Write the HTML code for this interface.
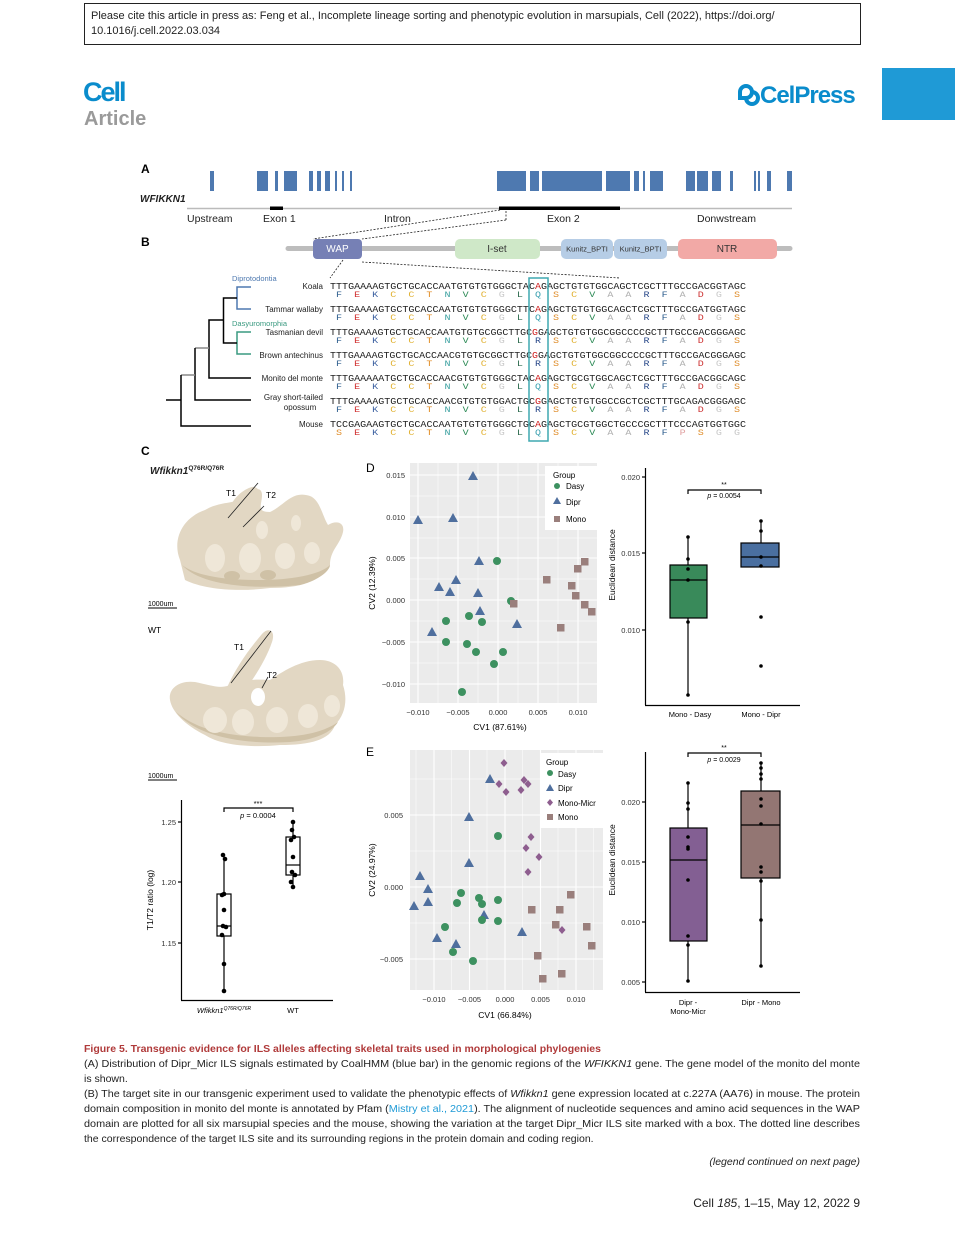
<!DOCTYPE html>
<html><head><meta charset="utf-8"><style>
html,body{margin:0;padding:0;background:#fff;}
svg{display:block;font-family:"Liberation Sans",sans-serif;}
.seq{font-family:"Liberation Mono",monospace;font-size:9.5px;fill:#222;}
.aa{font-family:"Liberation Mono",monospace;font-size:8.5px;white-space:pre;}
.F{fill:#2f5f8f}.E{fill:#d03030}.K{fill:#3a5fa0}.C{fill:#e0b030}.T{fill:#e08a20}.N{fill:#3aa0a0}.V{fill:#2e8b57}.G{fill:#c8c8c8}.L{fill:#2e6b4f}.Q{fill:#3aa0b0}.R{fill:#2a4a8a}.S{fill:#e09030}.A{fill:#b0b0b0}.D{fill:#cc3030}.P{fill:#e0a0a0}
.sp{font-size:8px;fill:#222;text-anchor:end;}
.tk{font-size:7.5px;fill:#333;}
.cap{font-size:10.5px;fill:#222;}
.bone{fill:#e2d7c3;}
.sh{fill:#cfc1a6;}
.hl{fill:#efe7d8;}
</style></head><body>
<svg width="955" height="1240" viewBox="0 0 955 1240" xmlns="http://www.w3.org/2000/svg">
<!-- header -->
<rect x="84.5" y="3.5" width="776" height="41" fill="none" stroke="#222" stroke-width="1"/>
<text x="91" y="19" font-size="11" fill="#222">Please cite this article in press as: Feng et al., Incomplete lineage sorting and phenotypic evolution in marsupials, Cell (2022), https://doi.org/</text>
<text x="91" y="34" font-size="11" fill="#222">10.1016/j.cell.2022.03.034</text>
<text x="83" y="101" font-size="27" font-weight="bold" fill="#0a8ccc" letter-spacing="-2">Cell</text>
<text x="84" y="125" font-size="20" font-weight="bold" fill="#9a9a9a">Article</text>
<text x="760" y="103" font-size="24" font-weight="bold" fill="#0a8ccc" letter-spacing="-1">CelPress</text>
<path d="M740 92 a6 6 0 1 1 6 6 h-6 z M746 98 a6 6 0 1 0 6 -6" fill="none" stroke="#0a8ccc" stroke-width="4"/>
<rect x="882" y="68" width="73" height="52" fill="#1f9ad6"/>

<!-- Panel A -->
<text x="141" y="173" font-size="12" font-weight="bold">A</text>
<text x="140" y="202" font-size="10" font-style="italic" font-weight="bold" fill="#222">WFIKKN1</text>
<g fill="#4e79b0">
<rect x="210" y="171" width="4" height="20"/><rect x="257" y="171" width="11" height="20"/><rect x="275" y="171" width="3" height="20"/><rect x="284" y="171" width="13" height="20"/><rect x="309" y="171" width="4" height="20"/><rect x="317" y="171" width="4" height="20"/><rect x="325" y="171" width="5" height="20"/><rect x="335" y="171" width="2" height="20"/><rect x="342" y="171" width="2" height="20"/><rect x="350" y="171" width="2" height="20"/>
<rect x="497" y="171" width="29" height="20"/><rect x="530" y="171" width="9" height="20"/><rect x="542" y="171" width="60" height="20"/><rect x="606" y="171" width="24" height="20"/><rect x="634" y="171" width="5" height="20"/><rect x="643" y="171" width="2" height="20"/><rect x="650" y="171" width="13" height="20"/><rect x="686" y="171" width="9" height="20"/><rect x="697" y="171" width="11" height="20"/><rect x="712" y="171" width="9" height="20"/><rect x="730" y="171" width="3" height="20"/><rect x="754" y="171" width="2" height="20"/><rect x="758" y="171" width="2" height="20"/><rect x="767" y="171" width="4" height="20"/><rect x="787" y="171" width="5" height="20"/>
</g>
<line x1="187" y1="208.5" x2="792" y2="208.5" stroke="#bbb" stroke-width="1.5"/>
<rect x="270" y="206.5" width="13" height="3.5" fill="#000"/>
<rect x="499" y="206.5" width="121" height="3.5" fill="#000"/>
<g font-size="10.5" fill="#222">
<text x="187" y="222">Upstream</text><text x="263" y="222">Exon 1</text><text x="384" y="222">Intron</text><text x="547" y="222">Exon 2</text><text x="697" y="222">Donwstream</text>
</g>

<!-- Panel B -->
<text x="141" y="246" font-size="12" font-weight="bold">B</text>
<line x1="288" y1="248.5" x2="790" y2="248.5" stroke="#bdbdbd" stroke-width="5" stroke-linecap="round"/>
<rect x="313" y="239" width="49" height="20" rx="4" fill="#7680b5"/>
<text x="337.5" y="252" font-size="10" fill="#fff" text-anchor="middle">WAP</text>
<rect x="455" y="239" width="85" height="20" rx="5" fill="#cfe8c8"/>
<text x="497" y="252" font-size="10" fill="#333" text-anchor="middle">I-set</text>
<rect x="561" y="239" width="52" height="20" rx="5" fill="#b6cde6"/>
<rect x="614" y="239" width="53" height="20" rx="5" fill="#b6cde6"/>
<text x="587" y="251.5" font-size="7.5" fill="#333" text-anchor="middle">Kunitz_BPTI</text>
<text x="640.5" y="251.5" font-size="7.5" fill="#333" text-anchor="middle">Kunitz_BPTI</text>
<rect x="678" y="239" width="99" height="20" rx="5" fill="#f2a9a6"/>
<text x="727" y="252" font-size="10" fill="#333" text-anchor="middle">NTR</text>
<g stroke="#222" stroke-width="0.8" stroke-dasharray="2,1.5" fill="none">
<line x1="500" y1="210" x2="313" y2="239"/><line x1="506" y1="211" x2="506" y2="220"/><line x1="506" y1="220" x2="362" y2="239"/>
<line x1="343" y1="260" x2="330" y2="278"/><line x1="362" y1="262" x2="620" y2="278"/>
</g>

<!-- tree -->
<text x="232" y="281" font-size="7.5" fill="#4e79b0">Diprotodontia</text>
<text x="232" y="326" font-size="7.5" fill="#3a9a80">Dasyuromorphia</text>
<g fill="none" stroke-width="1.5">
<path d="M251 287 H237 V309 H251" stroke="#4e79b0"/>
<path d="M251 332 H237 V354 H251" stroke="#3a9a80"/>
<path d="M237 298 H223.5 V343 H237" stroke="#000"/>
<path d="M223.5 320 H209 V378 H251" stroke="#000"/>
<path d="M209 348 H195" stroke="#888"/>
<path d="M195 348 V400 H251" stroke="#000"/>
<path d="M195 375 H181" stroke="#888"/>
<path d="M181 375 V426 H251" stroke="#000"/>
<path d="M166 400 H181" stroke="#000"/>
</g>

<!-- species labels -->
<text class="sp" x="323" y="289">Koala</text>
<text class="sp" x="323" y="312">Tammar wallaby</text>
<text class="sp" x="323" y="335">Tasmanian devil</text>
<text class="sp" x="323" y="358">Brown antechinus</text>
<text class="sp" x="323" y="381">Monito del monte</text>
<text class="sp" x="323" y="400">Gray short-tailed</text>
<text class="sp" x="300" y="410" style="text-anchor:middle">opossum</text>
<text class="sp" x="323" y="427">Mouse</text>

<!-- sequences -->
<text class="seq" x="330" y="289" textLength="416" lengthAdjust="spacingAndGlyphs">TTTGAAAAGTGCTGCACCAATGTGTGTGGGCTAC<tspan fill="#d02020">A</tspan>GAGCTGTGTGGCAGCTCGCTTTGCCGACGGTAGC</text>
<text class="seq" x="330" y="312" textLength="416" lengthAdjust="spacingAndGlyphs">TTTGAAAAGTGCTGCACCAATGTGTGTGGGCTTC<tspan fill="#d02020">A</tspan>GAGCTGTGTGGCAGCTCGCTTTGCCGATGGTAGC</text>
<text class="seq" x="330" y="335" textLength="416" lengthAdjust="spacingAndGlyphs">TTTGAAAAGTGCTGCACCAATGTGTGCGGCTTGC<tspan fill="#d02020">G</tspan>GAGCTGTGTGGCGGCCCCGCTTTGCCGACGGGAGC</text>
<text class="seq" x="330" y="358" textLength="416" lengthAdjust="spacingAndGlyphs">TTTGAAAAGTGCTGCACCAACGTGTGCGGCTTGC<tspan fill="#d02020">G</tspan>GAGCTGTGTGGCGGCCCCGCTTTGCCGACGGGAGC</text>
<text class="seq" x="330" y="381" textLength="416" lengthAdjust="spacingAndGlyphs">TTTGAAAAATGCTGCACCAACGTGTGTGGGCTAC<tspan fill="#d02020">A</tspan>GAGCTGCGTGGCAGCTCGCTTTGCCGACGGCAGC</text>
<text class="seq" x="330" y="404" textLength="416" lengthAdjust="spacingAndGlyphs">TTTGAAAAGTGCTGCACCAACGTGTGTGGACTGC<tspan fill="#d02020">G</tspan>GAGCTGTGTGGCCGCTCGCTTTGCAGACGGGAGC</text>
<text class="seq" x="330" y="427" textLength="416" lengthAdjust="spacingAndGlyphs">TCCGAGAAGTGCTGCACCAATGTGTGTGGGCTGC<tspan fill="#d02020">A</tspan>GAGCTGCGTGGCTGCCCGCTTTCCCAGTGGTGGC</text>

<text class="aa" x="336" y="297" textLength="404" lengthAdjust="spacingAndGlyphs"><tspan class="F">F</tspan>  <tspan class="E">E</tspan>  <tspan class="K">K</tspan>  <tspan class="C">C</tspan>  <tspan class="C">C</tspan>  <tspan class="T">T</tspan>  <tspan class="N">N</tspan>  <tspan class="V">V</tspan>  <tspan class="C">C</tspan>  <tspan class="G">G</tspan>  <tspan class="L">L</tspan>  <tspan class="Q">Q</tspan>  <tspan class="S">S</tspan>  <tspan class="C">C</tspan>  <tspan class="V">V</tspan>  <tspan class="A">A</tspan>  <tspan class="A">A</tspan>  <tspan class="R">R</tspan>  <tspan class="F">F</tspan>  <tspan class="A">A</tspan>  <tspan class="D">D</tspan>  <tspan class="G">G</tspan>  <tspan class="S">S</tspan></text>
<text class="aa" x="336" y="320" textLength="404" lengthAdjust="spacingAndGlyphs"><tspan class="F">F</tspan>  <tspan class="E">E</tspan>  <tspan class="K">K</tspan>  <tspan class="C">C</tspan>  <tspan class="C">C</tspan>  <tspan class="T">T</tspan>  <tspan class="N">N</tspan>  <tspan class="V">V</tspan>  <tspan class="C">C</tspan>  <tspan class="G">G</tspan>  <tspan class="L">L</tspan>  <tspan class="Q">Q</tspan>  <tspan class="S">S</tspan>  <tspan class="C">C</tspan>  <tspan class="V">V</tspan>  <tspan class="A">A</tspan>  <tspan class="A">A</tspan>  <tspan class="R">R</tspan>  <tspan class="F">F</tspan>  <tspan class="A">A</tspan>  <tspan class="D">D</tspan>  <tspan class="G">G</tspan>  <tspan class="S">S</tspan></text>
<text class="aa" x="336" y="343" textLength="404" lengthAdjust="spacingAndGlyphs"><tspan class="F">F</tspan>  <tspan class="E">E</tspan>  <tspan class="K">K</tspan>  <tspan class="C">C</tspan>  <tspan class="C">C</tspan>  <tspan class="T">T</tspan>  <tspan class="N">N</tspan>  <tspan class="V">V</tspan>  <tspan class="C">C</tspan>  <tspan class="G">G</tspan>  <tspan class="L">L</tspan>  <tspan class="R">R</tspan>  <tspan class="S">S</tspan>  <tspan class="C">C</tspan>  <tspan class="V">V</tspan>  <tspan class="A">A</tspan>  <tspan class="A">A</tspan>  <tspan class="R">R</tspan>  <tspan class="F">F</tspan>  <tspan class="A">A</tspan>  <tspan class="D">D</tspan>  <tspan class="G">G</tspan>  <tspan class="S">S</tspan></text>
<text class="aa" x="336" y="366" textLength="404" lengthAdjust="spacingAndGlyphs"><tspan class="F">F</tspan>  <tspan class="E">E</tspan>  <tspan class="K">K</tspan>  <tspan class="C">C</tspan>  <tspan class="C">C</tspan>  <tspan class="T">T</tspan>  <tspan class="N">N</tspan>  <tspan class="V">V</tspan>  <tspan class="C">C</tspan>  <tspan class="G">G</tspan>  <tspan class="L">L</tspan>  <tspan class="R">R</tspan>  <tspan class="S">S</tspan>  <tspan class="C">C</tspan>  <tspan class="V">V</tspan>  <tspan class="A">A</tspan>  <tspan class="A">A</tspan>  <tspan class="R">R</tspan>  <tspan class="F">F</tspan>  <tspan class="A">A</tspan>  <tspan class="D">D</tspan>  <tspan class="G">G</tspan>  <tspan class="S">S</tspan></text>
<text class="aa" x="336" y="389" textLength="404" lengthAdjust="spacingAndGlyphs"><tspan class="F">F</tspan>  <tspan class="E">E</tspan>  <tspan class="K">K</tspan>  <tspan class="C">C</tspan>  <tspan class="C">C</tspan>  <tspan class="T">T</tspan>  <tspan class="N">N</tspan>  <tspan class="V">V</tspan>  <tspan class="C">C</tspan>  <tspan class="G">G</tspan>  <tspan class="L">L</tspan>  <tspan class="Q">Q</tspan>  <tspan class="S">S</tspan>  <tspan class="C">C</tspan>  <tspan class="V">V</tspan>  <tspan class="A">A</tspan>  <tspan class="A">A</tspan>  <tspan class="R">R</tspan>  <tspan class="F">F</tspan>  <tspan class="A">A</tspan>  <tspan class="D">D</tspan>  <tspan class="G">G</tspan>  <tspan class="S">S</tspan></text>
<text class="aa" x="336" y="412" textLength="404" lengthAdjust="spacingAndGlyphs"><tspan class="F">F</tspan>  <tspan class="E">E</tspan>  <tspan class="K">K</tspan>  <tspan class="C">C</tspan>  <tspan class="C">C</tspan>  <tspan class="T">T</tspan>  <tspan class="N">N</tspan>  <tspan class="V">V</tspan>  <tspan class="C">C</tspan>  <tspan class="G">G</tspan>  <tspan class="L">L</tspan>  <tspan class="R">R</tspan>  <tspan class="S">S</tspan>  <tspan class="C">C</tspan>  <tspan class="V">V</tspan>  <tspan class="A">A</tspan>  <tspan class="A">A</tspan>  <tspan class="R">R</tspan>  <tspan class="F">F</tspan>  <tspan class="A">A</tspan>  <tspan class="D">D</tspan>  <tspan class="G">G</tspan>  <tspan class="S">S</tspan></text>
<text class="aa" x="336" y="435" textLength="404" lengthAdjust="spacingAndGlyphs"><tspan class="S">S</tspan>  <tspan class="E">E</tspan>  <tspan class="K">K</tspan>  <tspan class="C">C</tspan>  <tspan class="C">C</tspan>  <tspan class="T">T</tspan>  <tspan class="N">N</tspan>  <tspan class="V">V</tspan>  <tspan class="C">C</tspan>  <tspan class="G">G</tspan>  <tspan class="L">L</tspan>  <tspan class="Q">Q</tspan>  <tspan class="S">S</tspan>  <tspan class="C">C</tspan>  <tspan class="V">V</tspan>  <tspan class="A">A</tspan>  <tspan class="A">A</tspan>  <tspan class="R">R</tspan>  <tspan class="F">F</tspan>  <tspan class="P">P</tspan>  <tspan class="S">S</tspan>  <tspan class="G">G</tspan>  <tspan class="G">G</tspan></text>
<rect x="529" y="278" width="19" height="163" fill="none" stroke="#3fa8b0" stroke-width="1.5"/>

<!-- Panel C -->
<text x="141" y="455" font-size="12" font-weight="bold">C</text>
<text x="150" y="474" font-size="10" font-style="italic" font-weight="bold" fill="#222">Wfikkn1<tspan font-size="6.5" dy="-4" font-style="normal">Q76R/Q76R</tspan></text>
<!-- bone 1 -->
<g>
<path class="bone" d="M180 560 C172 540 182 518 205 510 C222 500 238 505 247 495 C252 488 262 486 262 495 C262 505 256 512 270 512 C285 505 292 490 310 496 C320 500 322 515 328 525 C336 520 345 522 343 532 C340 545 330 550 330 565 C320 582 300 588 270 588 C240 592 205 590 185 580 Z"/>
<path class="bone" d="M228 520 C226 505 240 490 252 487 C260 486 262 495 256 510 C250 525 232 530 228 520 Z"/>
<path class="sh" d="M182 565 C200 585 250 590 300 585 C320 580 330 570 330 565 C320 575 290 580 260 580 C220 580 195 575 182 565 Z"/>
<ellipse class="hl" cx="215" cy="558" rx="10" ry="14"/>
<ellipse class="hl" cx="250" cy="558" rx="11" ry="15"/>
<ellipse class="hl" cx="285" cy="556" rx="10" ry="13"/>
<ellipse class="hl" cx="312" cy="553" rx="8" ry="11"/>
<ellipse class="hl" cx="262" cy="530" rx="6" ry="9"/>
<ellipse class="hl" cx="296" cy="523" rx="5" ry="8"/>
<ellipse class="sh" cx="232" cy="576" rx="8" ry="5"/><ellipse class="sh" cx="268" cy="575" rx="8" ry="5"/>
</g>
<g stroke="#222" stroke-width="0.8"><line x1="228" y1="518" x2="258" y2="483"/><line x1="243" y1="527" x2="264" y2="506"/></g>
<text x="226" y="496" font-size="8.5">T1</text><text x="266" y="498" font-size="8.5">T2</text>
<line x1="148" y1="608" x2="177" y2="608" stroke="#000" stroke-width="1"/>
<text x="148" y="606" font-size="7">1000um</text>
<text x="148" y="633" font-size="8.5">WT</text>
<!-- bone 2 -->
<g>
<path class="bone" d="M170 700 C168 688 180 680 195 682 C210 685 222 690 232 684 C250 678 262 680 270 680 C282 672 300 660 320 660 C335 660 345 670 343 685 C348 700 345 715 335 725 C330 740 310 745 280 745 C250 748 220 745 205 735 C185 725 172 712 170 700 Z"/>
<path class="bone" d="M226 690 C235 668 250 648 262 634 C268 627 276 630 272 642 C266 660 252 682 240 696 Z"/>
<path class="sh" d="M176 712 C195 735 240 745 290 742 C315 740 332 732 338 722 C320 735 290 738 260 737 C220 735 195 728 176 712 Z"/>
<ellipse class="hl" cx="215" cy="720" rx="12" ry="13"/>
<ellipse class="hl" cx="243" cy="722" rx="11" ry="13"/>
<ellipse class="hl" cx="277" cy="720" rx="11" ry="13"/>
<ellipse class="hl" cx="308" cy="716" rx="10" ry="12"/>
<ellipse class="hl" cx="332" cy="706" rx="8" ry="11"/>
<ellipse cx="258" cy="697" rx="7" ry="9" fill="#fff"/>
</g>
<g stroke="#222" stroke-width="0.8"><line x1="231" y1="683" x2="271" y2="631"/><line x1="262" y1="688" x2="268" y2="677"/></g>
<text x="234" y="650" font-size="8.5">T1</text><text x="267" y="678" font-size="8.5">T2</text>
<line x1="148" y1="780" x2="177" y2="780" stroke="#000" stroke-width="1"/>
<text x="148" y="778" font-size="7">1000um</text>

<!-- C boxplot -->
<g stroke="#000" stroke-width="1.2" fill="none">
<line x1="181.5" y1="800" x2="181.5" y2="1000"/><line x1="181" y1="1000.5" x2="333" y2="1000.5"/>
<line x1="178" y1="822" x2="181" y2="822"/><line x1="178" y1="882" x2="181" y2="882"/><line x1="178" y1="943" x2="181" y2="943"/>
<line x1="224" y1="991" x2="224" y2="936"/><line x1="224" y1="894" x2="224" y2="855"/>
<rect x="217" y="894" width="14" height="42" fill="#fff"/><line x1="217" y1="926" x2="231" y2="926"/>
<line x1="293" y1="887" x2="293" y2="875"/><line x1="293" y1="837" x2="293" y2="821"/>
<rect x="286" y="837" width="14" height="38" fill="#fff"/><line x1="286" y1="865" x2="300" y2="865"/>
<path d="M224 812 V808 H293 V812"/>
</g>
<g fill="#000">
<circle cx="223" cy="855" r="2.3"/><circle cx="225" cy="859" r="2.3"/><circle cx="224" cy="894" r="2.3"/><circle cx="222" cy="895" r="2.3"/><circle cx="224" cy="910" r="2.3"/><circle cx="223" cy="926" r="2.3"/><circle cx="226" cy="927" r="2.3"/><circle cx="222" cy="935" r="2.3"/><circle cx="224" cy="964" r="2.3"/><circle cx="224" cy="991" r="2.3"/>
<circle cx="293" cy="822" r="2.3"/><circle cx="292" cy="830" r="2.3"/><circle cx="294" cy="837" r="2.3"/><circle cx="291" cy="840" r="2.3"/><circle cx="293" cy="857" r="2.3"/><circle cx="292" cy="872" r="2.3"/><circle cx="295" cy="875" r="2.3"/><circle cx="291" cy="882" r="2.3"/><circle cx="293" cy="887" r="2.3"/>
</g>
<g class="tk" text-anchor="end"><text x="176" y="825">1.25</text><text x="176" y="885">1.20</text><text x="176" y="946">1.15</text></g>
<text x="258" y="806" font-size="7.5" text-anchor="middle">***</text>
<text x="258" y="818" font-size="7.5" text-anchor="middle" font-style="italic">p <tspan font-style="normal">= 0.0004</tspan></text>
<text transform="translate(153,900) rotate(-90)" font-size="8.5" text-anchor="middle">T1/T2 ratio (log)</text>
<text x="224" y="1013" font-size="7.5" text-anchor="middle" font-style="italic">Wfikkn1<tspan font-size="5" dy="-3">Q76R/Q76R</tspan></text>
<text x="293" y="1013" font-size="7.5" text-anchor="middle">WT</text>

<!-- Panel D scatter -->
<text x="366" y="472" font-size="12">D</text>
<rect x="410" y="463" width="187" height="240" fill="#ebebeb"/>
<g stroke="#fff" stroke-width="0.5">
<line x1="438" y1="463" x2="438" y2="703"/><line x1="478" y1="463" x2="478" y2="703"/><line x1="518" y1="463" x2="518" y2="703"/><line x1="558" y1="463" x2="558" y2="703"/>
<line x1="410" y1="496" x2="597" y2="496"/><line x1="410" y1="538" x2="597" y2="538"/><line x1="410" y1="579" x2="597" y2="579"/><line x1="410" y1="621" x2="597" y2="621"/><line x1="410" y1="663" x2="597" y2="663"/>
</g>
<g stroke="#fff" stroke-width="1.1">
<line x1="418" y1="463" x2="418" y2="703"/><line x1="458" y1="463" x2="458" y2="703"/><line x1="498" y1="463" x2="498" y2="703"/><line x1="538" y1="463" x2="538" y2="703"/><line x1="578" y1="463" x2="578" y2="703"/>
<line x1="410" y1="475" x2="597" y2="475"/><line x1="410" y1="517" x2="597" y2="517"/><line x1="410" y1="558" x2="597" y2="558"/><line x1="410" y1="600" x2="597" y2="600"/><line x1="410" y1="642" x2="597" y2="642"/><line x1="410" y1="684" x2="597" y2="684"/>
</g>
<rect x="545" y="466" width="55" height="64" fill="#fff"/>
<g class="tk" text-anchor="end"><text x="405" y="478">0.015</text><text x="405" y="520">0.010</text><text x="405" y="561">0.005</text><text x="405" y="603">0.000</text><text x="405" y="645">−0.005</text><text x="405" y="687">−0.010</text></g>
<g class="tk" text-anchor="middle"><text x="418" y="715">−0.010</text><text x="458" y="715">−0.005</text><text x="498" y="715">0.000</text><text x="538" y="715">0.005</text><text x="578" y="715">0.010</text></g>
<text x="500" y="730" font-size="8.5" text-anchor="middle">CV1 (87.61%)</text>
<text transform="translate(375,583) rotate(-90)" font-size="8.5" text-anchor="middle">CV2 (12.39%)</text>
<g fill="#4f6f9e">
<path d="M473 471 l5 9 h-10 z"/><path d="M418 515 l5 9 h-10 z"/><path d="M453 513 l5 9 h-10 z"/><path d="M479 556 l5 9 h-10 z"/><path d="M456 575 l5 9 h-10 z"/><path d="M439 582 l5 9 h-10 z"/><path d="M450 587 l5 9 h-10 z"/><path d="M478 588 l5 9 h-10 z"/><path d="M480 606 l5 9 h-10 z"/><path d="M517 619 l5 9 h-10 z"/><path d="M432 627 l5 9 h-10 z"/>
</g>
<g fill="#3d9160">
<circle cx="497" cy="561" r="4"/><circle cx="511" cy="601" r="4"/><circle cx="446" cy="621" r="4"/><circle cx="469" cy="616" r="4"/><circle cx="482" cy="622" r="4"/><circle cx="446" cy="642" r="4"/><circle cx="467" cy="644" r="4"/><circle cx="476" cy="652" r="4"/><circle cx="503" cy="652" r="4"/><circle cx="494" cy="664" r="4"/><circle cx="462" cy="692" r="4"/>
</g>
<g fill="#9a7f7c">
<rect x="510" y="600" width="7.5" height="7.5"/><rect x="543" y="576" width="7.5" height="7.5"/><rect x="581" y="558" width="7.5" height="7.5"/><rect x="574" y="565" width="7.5" height="7.5"/><rect x="568" y="582" width="7.5" height="7.5"/><rect x="572" y="592" width="7.5" height="7.5"/><rect x="581" y="601" width="7.5" height="7.5"/><rect x="588" y="608" width="7.5" height="7.5"/><rect x="557" y="624" width="7.5" height="7.5"/>
</g>
<text x="553" y="478" font-size="8">Group</text>
<circle cx="557" cy="486" r="3" fill="#3d9160"/><text x="566" y="489" font-size="8">Dasy</text>
<path d="M557 497 l4 7 h-8 z" fill="#4f6f9e"/><text x="566" y="505" font-size="8">Dipr</text>
<rect x="554" y="516" width="6" height="6" fill="#9a7f7c"/><text x="566" y="522" font-size="8">Mono</text>

<!-- D boxplot -->
<g stroke="#000" stroke-width="1.2" fill="none">
<line x1="645.5" y1="468" x2="645.5" y2="705"/><line x1="645" y1="705.5" x2="800" y2="705.5"/>
<line x1="642" y1="477" x2="645" y2="477"/><line x1="642" y1="553" x2="645" y2="553"/><line x1="642" y1="630" x2="645" y2="630"/>
<line x1="688" y1="537" x2="688" y2="695"/>
<rect x="670" y="565" width="37" height="53" fill="#398a5a"/><line x1="670" y1="580" x2="707" y2="580"/>
<line x1="761" y1="521" x2="761" y2="567"/>
<rect x="741" y="543" width="38" height="24" fill="#4a6fa0"/><line x1="741" y1="557" x2="779" y2="557"/>
<path d="M688 494 V490 H761 V494"/>
</g>
<g fill="#000">
<circle cx="688" cy="537" r="1.8"/><circle cx="688" cy="559" r="1.8"/><circle cx="688" cy="569" r="1.8"/><circle cx="688" cy="580" r="1.8"/><circle cx="688" cy="622" r="1.8"/><circle cx="688" cy="695" r="1.8"/>
<circle cx="761" cy="521" r="1.8"/><circle cx="761" cy="531" r="1.8"/><circle cx="761" cy="557" r="1.8"/><circle cx="761" cy="566" r="1.8"/><circle cx="761" cy="617" r="1.8"/><circle cx="761" cy="666" r="1.8"/>
</g>
<g class="tk" text-anchor="end"><text x="640" y="480">0.020</text><text x="640" y="556">0.015</text><text x="640" y="633">0.010</text></g>
<text x="724" y="487" font-size="7" text-anchor="middle">**</text>
<text x="724" y="498" font-size="7" text-anchor="middle" font-style="italic">p <tspan font-style="normal">= 0.0054</tspan></text>
<text transform="translate(615,565) rotate(-90)" font-size="8.5" text-anchor="middle">Euclidean distance</text>
<text x="690" y="717" font-size="7.5" text-anchor="middle">Mono - Dasy</text>
<text x="761" y="717" font-size="7.5" text-anchor="middle">Mono - Dipr</text>

<!-- Panel E scatter -->
<text x="366" y="756" font-size="12">E</text>
<rect x="410" y="750" width="193" height="240" fill="#ebebeb"/>
<g stroke="#fff" stroke-width="0.5">
<line x1="451.5" y1="750" x2="451.5" y2="990"/><line x1="487" y1="750" x2="487" y2="990"/><line x1="522.5" y1="750" x2="522.5" y2="990"/><line x1="558" y1="750" x2="558" y2="990"/><line x1="593.5" y1="750" x2="593.5" y2="990"/><line x1="416" y1="750" x2="416" y2="990"/>
<line x1="410" y1="779" x2="603" y2="779"/><line x1="410" y1="851" x2="603" y2="851"/><line x1="410" y1="923" x2="603" y2="923"/>
</g>
<g stroke="#fff" stroke-width="1.1">
<line x1="434" y1="750" x2="434" y2="990"/><line x1="469.5" y1="750" x2="469.5" y2="990"/><line x1="505" y1="750" x2="505" y2="990"/><line x1="540.5" y1="750" x2="540.5" y2="990"/><line x1="576" y1="750" x2="576" y2="990"/>
<line x1="410" y1="815" x2="603" y2="815"/><line x1="410" y1="887" x2="603" y2="887"/><line x1="410" y1="959" x2="603" y2="959"/>
</g>
<rect x="540" y="753" width="64" height="75" fill="#fff"/>
<g class="tk" text-anchor="end"><text x="403" y="818">0.005</text><text x="403" y="890">0.000</text><text x="403" y="962">−0.005</text></g>
<g class="tk" text-anchor="middle"><text x="434" y="1002">−0.010</text><text x="469.5" y="1002">−0.005</text><text x="505" y="1002">0.000</text><text x="540.5" y="1002">0.005</text><text x="576" y="1002">0.010</text></g>
<text x="505" y="1018" font-size="8.5" text-anchor="middle">CV1 (66.84%)</text>
<text transform="translate(375,870) rotate(-90)" font-size="8.5" text-anchor="middle">CV2 (24.97%)</text>
<g fill="#4f6f9e">
<path d="M490 774 l5 9 h-10 z"/><path d="M469 812 l5 9 h-10 z"/><path d="M469 858 l5 9 h-10 z"/><path d="M420 871 l5 9 h-10 z"/><path d="M428 884 l5 9 h-10 z"/><path d="M428 897 l5 9 h-10 z"/><path d="M414 901 l5 9 h-10 z"/><path d="M484 910 l5 9 h-10 z"/><path d="M437 933 l5 9 h-10 z"/><path d="M456 939 l5 9 h-10 z"/><path d="M522 927 l5 9 h-10 z"/>
</g>
<g fill="#3d9160">
<circle cx="498" cy="836" r="4"/><circle cx="461" cy="893" r="4"/><circle cx="457" cy="903" r="4"/><circle cx="479" cy="898" r="4"/><circle cx="482" cy="904" r="4"/><circle cx="498" cy="900" r="4"/><circle cx="482" cy="920" r="4"/><circle cx="498" cy="921" r="4"/><circle cx="445" cy="927" r="4"/><circle cx="453" cy="952" r="4"/><circle cx="473" cy="961" r="4"/>
</g>
<g fill="#8e5e8f">
<path d="M504 759 l3.5 4 l-3.5 4 l-3.5 -4 z"/><path d="M499 780 l3.5 4 l-3.5 4 l-3.5 -4 z"/><path d="M506 788 l3.5 4 l-3.5 4 l-3.5 -4 z"/><path d="M524 776 l3.5 4 l-3.5 4 l-3.5 -4 z"/><path d="M528 780 l3.5 4 l-3.5 4 l-3.5 -4 z"/><path d="M521 786 l3.5 4 l-3.5 4 l-3.5 -4 z"/><path d="M531 833 l3.5 4 l-3.5 4 l-3.5 -4 z"/><path d="M526 844 l3.5 4 l-3.5 4 l-3.5 -4 z"/><path d="M539 853 l3.5 4 l-3.5 4 l-3.5 -4 z"/><path d="M528 868 l3.5 4 l-3.5 4 l-3.5 -4 z"/><path d="M562 926 l3.5 4 l-3.5 4 l-3.5 -4 z"/>
</g>
<g fill="#9a7f7c">
<rect x="567" y="891" width="7.5" height="7.5"/><rect x="528" y="906" width="7.5" height="7.5"/><rect x="556" y="906" width="7.5" height="7.5"/><rect x="552" y="921" width="7.5" height="7.5"/><rect x="583" y="923" width="7.5" height="7.5"/><rect x="588" y="942" width="7.5" height="7.5"/><rect x="534" y="952" width="7.5" height="7.5"/><rect x="539" y="975" width="7.5" height="7.5"/><rect x="558" y="970" width="7.5" height="7.5"/>
</g>
<text x="546" y="765" font-size="8">Group</text>
<circle cx="550" cy="773" r="3" fill="#3d9160"/><text x="558" y="777" font-size="8">Dasy</text>
<path d="M550 784 l4 7 h-8 z" fill="#4f6f9e"/><text x="558" y="791" font-size="8">Dipr</text>
<path d="M550 799 l3 3.5 l-3 3.5 l-3 -3.5 z" fill="#8e5e8f"/><text x="558" y="806" font-size="8">Mono-Micr</text>
<rect x="547" y="814" width="6" height="6" fill="#9a7f7c"/><text x="558" y="820" font-size="8">Mono</text>

<!-- E boxplot -->
<g stroke="#000" stroke-width="1.2" fill="none">
<line x1="645.5" y1="752" x2="645.5" y2="992"/><line x1="645" y1="992.5" x2="800" y2="992.5"/>
<line x1="642" y1="802" x2="645" y2="802"/><line x1="642" y1="862" x2="645" y2="862"/><line x1="642" y1="922" x2="645" y2="922"/><line x1="642" y1="982" x2="645" y2="982"/>
<line x1="688" y1="783" x2="688" y2="981"/>
<rect x="670" y="828" width="37" height="113" fill="#835f93"/><line x1="670" y1="860" x2="707" y2="860"/>
<line x1="761" y1="763" x2="761" y2="966"/>
<rect x="741" y="791" width="39" height="87" fill="#937673"/><line x1="741" y1="825" x2="780" y2="825"/>
<path d="M688 757 V753 H761 V757"/>
</g>
<g fill="#000">
<circle cx="688" cy="783" r="1.8"/><circle cx="688" cy="803" r="1.8"/><circle cx="688" cy="809" r="1.8"/><circle cx="688" cy="837" r="1.8"/><circle cx="688" cy="847" r="1.8"/><circle cx="688" cy="849" r="1.8"/><circle cx="688" cy="880" r="1.8"/><circle cx="688" cy="936" r="1.8"/><circle cx="688" cy="945" r="1.8"/><circle cx="688" cy="981" r="1.8"/>
<circle cx="761" cy="763" r="1.8"/><circle cx="761" cy="768" r="1.8"/><circle cx="761" cy="774" r="1.8"/><circle cx="761" cy="779" r="1.8"/><circle cx="761" cy="799" r="1.8"/><circle cx="761" cy="806" r="1.8"/><circle cx="761" cy="824" r="1.8"/><circle cx="761" cy="867" r="1.8"/><circle cx="761" cy="872" r="1.8"/><circle cx="761" cy="881" r="1.8"/><circle cx="761" cy="920" r="1.8"/><circle cx="761" cy="966" r="1.8"/>
</g>
<g class="tk" text-anchor="end"><text x="640" y="805">0.020</text><text x="640" y="865">0.015</text><text x="640" y="925">0.010</text><text x="640" y="985">0.005</text></g>
<text x="724" y="750" font-size="7" text-anchor="middle">**</text>
<text x="724" y="762" font-size="7" text-anchor="middle" font-style="italic">p <tspan font-style="normal">= 0.0029</tspan></text>
<text transform="translate(615,860) rotate(-90)" font-size="8.5" text-anchor="middle">Euclidean distance</text>
<text x="688" y="1005" font-size="7.5" text-anchor="middle">Dipr -</text>
<text x="688" y="1014" font-size="7.5" text-anchor="middle">Mono-Micr</text>
<text x="761" y="1005" font-size="7.5" text-anchor="middle">Dipr - Mono</text>

<!-- caption -->
<text x="84" y="1052" font-size="10.5" font-weight="bold" fill="#b03a3a">Figure 5.  Transgenic evidence for ILS alleles affecting skeletal traits used in morphological phylogenies</text>
<text class="cap" x="84" y="1067" textLength="776" lengthAdjust="spacingAndGlyphs">(A) Distribution of Dipr_Micr ILS signals estimated by CoalHMM (blue bar) in the genomic regions of the <tspan font-style="italic">WFIKKN1</tspan> gene. The gene model of the monito del monte</text>
<text class="cap" x="84" y="1082">is shown.</text>
<text class="cap" x="84" y="1097" textLength="776" lengthAdjust="spacingAndGlyphs">(B) The target site in our transgenic experiment used to validate the phenotypic effects of <tspan font-style="italic">Wfikkn1</tspan> gene expression located at c.227A (AA76) in mouse. The protein</text>
<text class="cap" x="84" y="1112" textLength="776" lengthAdjust="spacingAndGlyphs">domain composition in monito del monte is annotated by Pfam (<tspan fill="#1f9ad6">Mistry et al., 2021</tspan>). The alignment of nucleotide sequences and amino acid sequences in the WAP</text>
<text class="cap" x="84" y="1127" textLength="776" lengthAdjust="spacingAndGlyphs">domain are plotted for all six marsupial species and the mouse, showing the variation at the target Dipr_Micr ILS site marked with a box. The dotted line describes</text>
<text class="cap" x="84" y="1142">the correspondence of the target ILS site and its surrounding regions in the protein domain and coding region.</text>
<text class="cap" x="860" y="1165" text-anchor="end" font-style="italic">(legend continued on next page)</text>
<text x="860" y="1207" font-size="12" text-anchor="end" fill="#222">Cell <tspan font-style="italic">185</tspan>, 1–15, May 12, 2022   9</text>
</svg>
</body></html>
